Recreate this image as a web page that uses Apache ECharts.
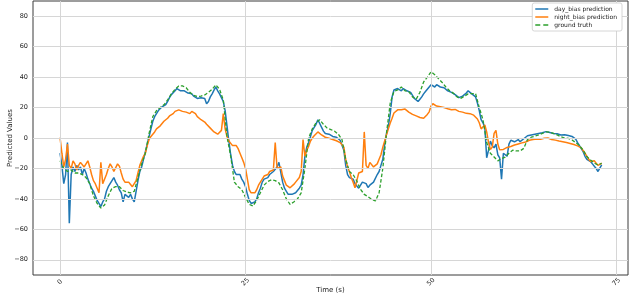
<!DOCTYPE html>
<html>
<head>
<meta charset="utf-8">
<script src="https://cdn.jsdelivr.net/npm/echarts@6/dist/echarts.min.js"></script>
<style>html,body{margin:0;padding:0;background:#fff;}#c{width:634px;height:299px;}</style>
</head>
<body>
<div id="c"></div>
<script>
// prediction samples every 0.25 s starting at 0 s; ground truth every 0.5 s
const predStart = 0, predStep = 0.25;
const gtStart = 0, gtStep = 0.5;
const dayBias = [
 -10,-18,-30,-24,-3,-56,-24,-19,-22,-18,-21,-19,-24,-20,-23,-27,-30,-33,-35,-38,
 -41,-43,-45,-42,-40,-35,-32,-30,-28,-26,-29,-31,-34,-36,-42,-37,-36,-39,-37,-40,
 -42,-35,-28,-22,-19,-14,-9,-4,1,6,11,14,16,18,19,20.5,21.5,22,24,26.5,
 28.5,29,31,32.5,33,31,32,31,30.5,29.5,28.5,29,27.5,28,26,27,26.5,25.5,26,22.5,
 24,27,29,31.5,33.5,31,29,26.5,24,18,8,-2,-11,-18,-22,-24,-25,-24,-27,-29,
 -32,-37,-41,-43,-43,-42,-40,-36,-33,-29,-27,-26,-26,-24,-24,-22,-22,-19,-16,-15,
 -29,-33,-35,-37,-38,-37,-37,-36,-35,-33,-31,-24,-12,-6,-3,1,5,7,9,12,
 11,7,4.5,3,3.3,2.5,2,1,0,0.5,-0.5,-1.5,-2.5,-8,-18,-24,-26,-25,-27,-30,
 -31,-33,-31,-29,-28,-30,-32.5,-31,-30,-29,-28,-24,-22,-18,-14,-4,3,8,16,27,
 31.5,32,32.5,31.5,31,32.5,32,31,30.5,30,28,26,25,24,25.5,27,29,30.5,32,33,
 35,34,33.5,35,34.5,33.5,33.5,33,32,31,30.5,30,29.5,28.5,27.5,26.5,27,27.5,28,29.5,
 31,30.5,29,28,27,23,18,12,10,7,-13,-8,-2,-5,-6.5,-4,-11,-13,-27,-10,
 -11,-12,-4,-1.5,-1.3,-2.5,-1.8,-1,-2.4,-1.5,-0.5,0.5,1.5,2.5,2,1.5,2.5,3.5,3,2.5,
 3.5,4.5,4.2,3.5,3.6,4,3,2.5,2.8,3,2,1.5,2.2,2.5,1.6,1.2,1,0.8,-0.8,-3,
 -5,-7,-9,-12,-14,-15,-15.5,-17,-18,-20,-22,-21,
 -17.7
];
const nightBias = [
 0.3,-10,-19,-14,-4,-18,-20,-15,-17,-21,-18,-16,-16,-19,-18,-15,-19,-24,-28,-30,
 -33,-36,-16,-30,-29,-24,-20,-17,-19,-22,-21,-17,-18.5,-23,-27,-29,-30,-29,-30.5,-32,
 -31,-28,-23,-18,-15,-12,-10,-5,-1,1,2.5,4,6,7,8,9.5,11,12,13,14.5,
 15.3,16,17.5,18,18.5,18,17.5,18,17,16.5,16,17.5,18.5,16,14,13,12,11,10.5,9,
 8,6.5,5.5,4,3.3,2.5,2.2,5,16,6,1,-2,-3.3,-5,-4,-5,-7,-10,-13,-16,
 -20,-27,-34,-36,-37,-36,-34,-31,-29,-27,-25,-24,-24,-22,-21.5,-21,-3,-20,-20,-19,
 -25,-28,-31,-32,-32.7,-32,-30.5,-29,-28,-26,-22,-1,-12,-8,-5.5,-2,0,1.5,2.2,4,
 4,2,1,0.5,0,-0.2,-0.5,-1,-1,-1.8,-2.2,-3,-3.5,-6,-14,-19,-22,-26,-29,-32.7,
 -28,-23,-24,-22,4,-18,-20,-16,-17,-19,-18,-17,-14,-11,-6,-2,2.2,6,9.8,13,
 16.4,17.5,18.5,18,18.5,19.5,19,18,17,16,15.5,15,14.5,14,13.5,12.5,13,12.8,15.5,17.2,
 21,22.5,22,21,21.5,20.5,20.5,20,19.8,19.2,19,18.5,18.5,18.8,18,17.5,17.2,17,16.5,16.2,
 16,16,15.5,15,14.5,12.5,10,6,5,8.5,4,-3,-7.5,-6,3,5,-4,-7.8,-8,-7.5,
 -7.5,-6.2,-7,-5.6,-5.8,-4.6,-5,-3.9,-4.3,-3.2,-3.8,-2.6,-2.8,-1.5,-1.8,-1,-1.6,-0.7,-1.5,-0.8,
 -0.9,-0.2,-0.9,0,-0.2,-1,-0.5,-1.4,-1,-2,-1.6,-2.5,-2,-3,-2.7,-3.6,-3.2,-4.3,-4.4,-5.2,
 -5.5,-6.5,-7.5,-10,-12,-14,-15.5,-16,-15,-16.5,-18,-17.5,
 -16.6
];
const groundTruth = [
 -15,-20,-22,-21,-23,-23,-24,-26,-30,-38, -43,-46,-44,-38,-33,-32,-32,-34.5,-35.5,-36,
 -35,-26,-17,-10,3,14,18,20,21.8,25, 29,32,34.2,34.2,33,30,28,27.2,27.5,28.3,
 30,32,34.9,32,25,1,-12,-29,-32,-34, -39,-43.6,-44.7,-41,-36,-31,-28.5,-27.5,-28,-29.5,
 -34,-40,-43.6,-42,-40,-36,-20,0,6,10, 12,9,6.5,5.5,4.5,2.5,-1,-14,-22,-24,
 -28.3,-33.8,-37,-38.5,-40.3,-41.4,-36,-20,3.3,23, 30.5,31.6,33.5,31,30.5,27,25.5,30,36.8,40,
 43.5,41.5,39,36.5,33.5,31,29.5,27,26,27.5, 29,29.2,29.2,20,12,-3,-10,-12.5,-15,-13.5,
 -12.5,-10,-8,-8.5,-8.5,-6.8,-1,0.5,1.2,2, 3,4,3.8,3,2,0.8,0,-0.3,-1.3,-3,
 -5,-8,-12.2,-14.5,-16.5,-17.7,-16.6
];
const xTicks = [0, 25, 50, 75];
const yTicks = [-80, -60, -40, -20, 0, 20, 40, 60, 80];
const seriesNames = ['day_bias prediction', 'night_bias prediction', 'ground truth'];

const pairs = (arr, start, step) => arr.map((v, i) => [start + i * step, v]);
const fmtY = v => (v < 0 ? '\u2212' + Math.abs(v) : String(v));
const solidIcon = 'path://M0,0L26,0L26,3L0,3Z';
const dashIcon = 'path://M0,0L10,0L10,3L0,3Z M16,0L26,0L26,3L16,3Z';

const chart = echarts.init(document.getElementById('c'), null, {renderer: 'canvas'});
chart.setOption({
  animation: false,
  textStyle: {fontFamily: 'DejaVu Sans'},
  grid: {left: 33, right: 6, top: 1, bottom: 24, containLabel: false, outerBoundsMode: 'none',
         show: true, borderColor: '#3a3a3a', borderWidth: 1, backgroundColor: 'transparent'},
  legend: {
    data: [
      {name: seriesNames[0], icon: solidIcon},
      {name: seriesNames[1], icon: solidIcon},
      {name: seriesNames[2], icon: dashIcon}
    ],
    orient: 'vertical', right: 12, top: 3, z: 20,
    padding: [3, 5, 3, 3], itemGap: 2, itemWidth: 13, itemHeight: 6,
    backgroundColor: '#ffffff', borderColor: '#cccccc', borderWidth: 0.8, borderRadius: 2,
    textStyle: {fontSize: 6, color: '#222', fontFamily: 'DejaVu Sans', padding: [0, 0, 0, 1]}
  },
  xAxis: {
    type: 'value', min: -3.645, max: 76.545,
    name: 'Time (s)', nameLocation: 'middle', nameGap: 12, nameMoveOverlap: false,
    nameTextStyle: {fontSize: 7, color: '#222'},
    axisLine: {show: false},
    axisTick: {show: true, length: 3.5, customValues: xTicks, lineStyle: {color: '#333', width: 0.8}},
    axisLabel: {show: true, customValues: xTicks, rotate: 45, fontSize: 6.5, color: '#222', margin: 7, align: 'center', verticalAlign: 'middle'},
    splitLine: {show: false}
  },
  yAxis: {
    type: 'value', min: -90, max: 90,
    name: 'Predicted Values', nameLocation: 'middle', nameGap: 19, nameRotate: 90, nameMoveOverlap: false,
    nameTextStyle: {fontSize: 7, color: '#222'},
    axisLine: {show: false},
    axisTick: {show: true, length: 3.5, customValues: yTicks, lineStyle: {color: '#333', width: 0.8}},
    axisLabel: {show: true, customValues: yTicks, fontSize: 6.5, color: '#222', margin: 5, formatter: fmtY},
    splitLine: {show: false}
  },
  series: [
    {
      name: 'grid', type: 'line', data: [], z: 0, silent: true,
      markLine: {
        silent: true, symbol: ['none', 'none'], label: {show: false}, animation: false,
        lineStyle: {color: '#d6d6d6', width: 1, type: 'solid'},
        emphasis: {disabled: true},
        data: yTicks.map(v => ({yAxis: v})).concat(xTicks.map(v => ({xAxis: v})))
      }
    },
    {name: seriesNames[0], type: 'line', data: pairs(dayBias, predStart, predStep), showSymbol: false, symbol: 'none', z: 2,
     lineStyle: {color: '#1f77b4', width: 1.5}, itemStyle: {color: '#1f77b4'}},
    {name: seriesNames[1], type: 'line', data: pairs(nightBias, predStart, predStep), showSymbol: false, symbol: 'none', z: 3,
     lineStyle: {color: '#ff7f0e', width: 1.5}, itemStyle: {color: '#ff7f0e'}},
    {name: seriesNames[2], type: 'line', data: pairs(groundTruth, gtStart, gtStep), showSymbol: false, symbol: 'none', z: 4,
     lineStyle: {color: '#2ca02c', width: 1.3, type: [3.5, 2]}, itemStyle: {color: '#2ca02c'}}
  ]
});
</script>
</body>
</html>
